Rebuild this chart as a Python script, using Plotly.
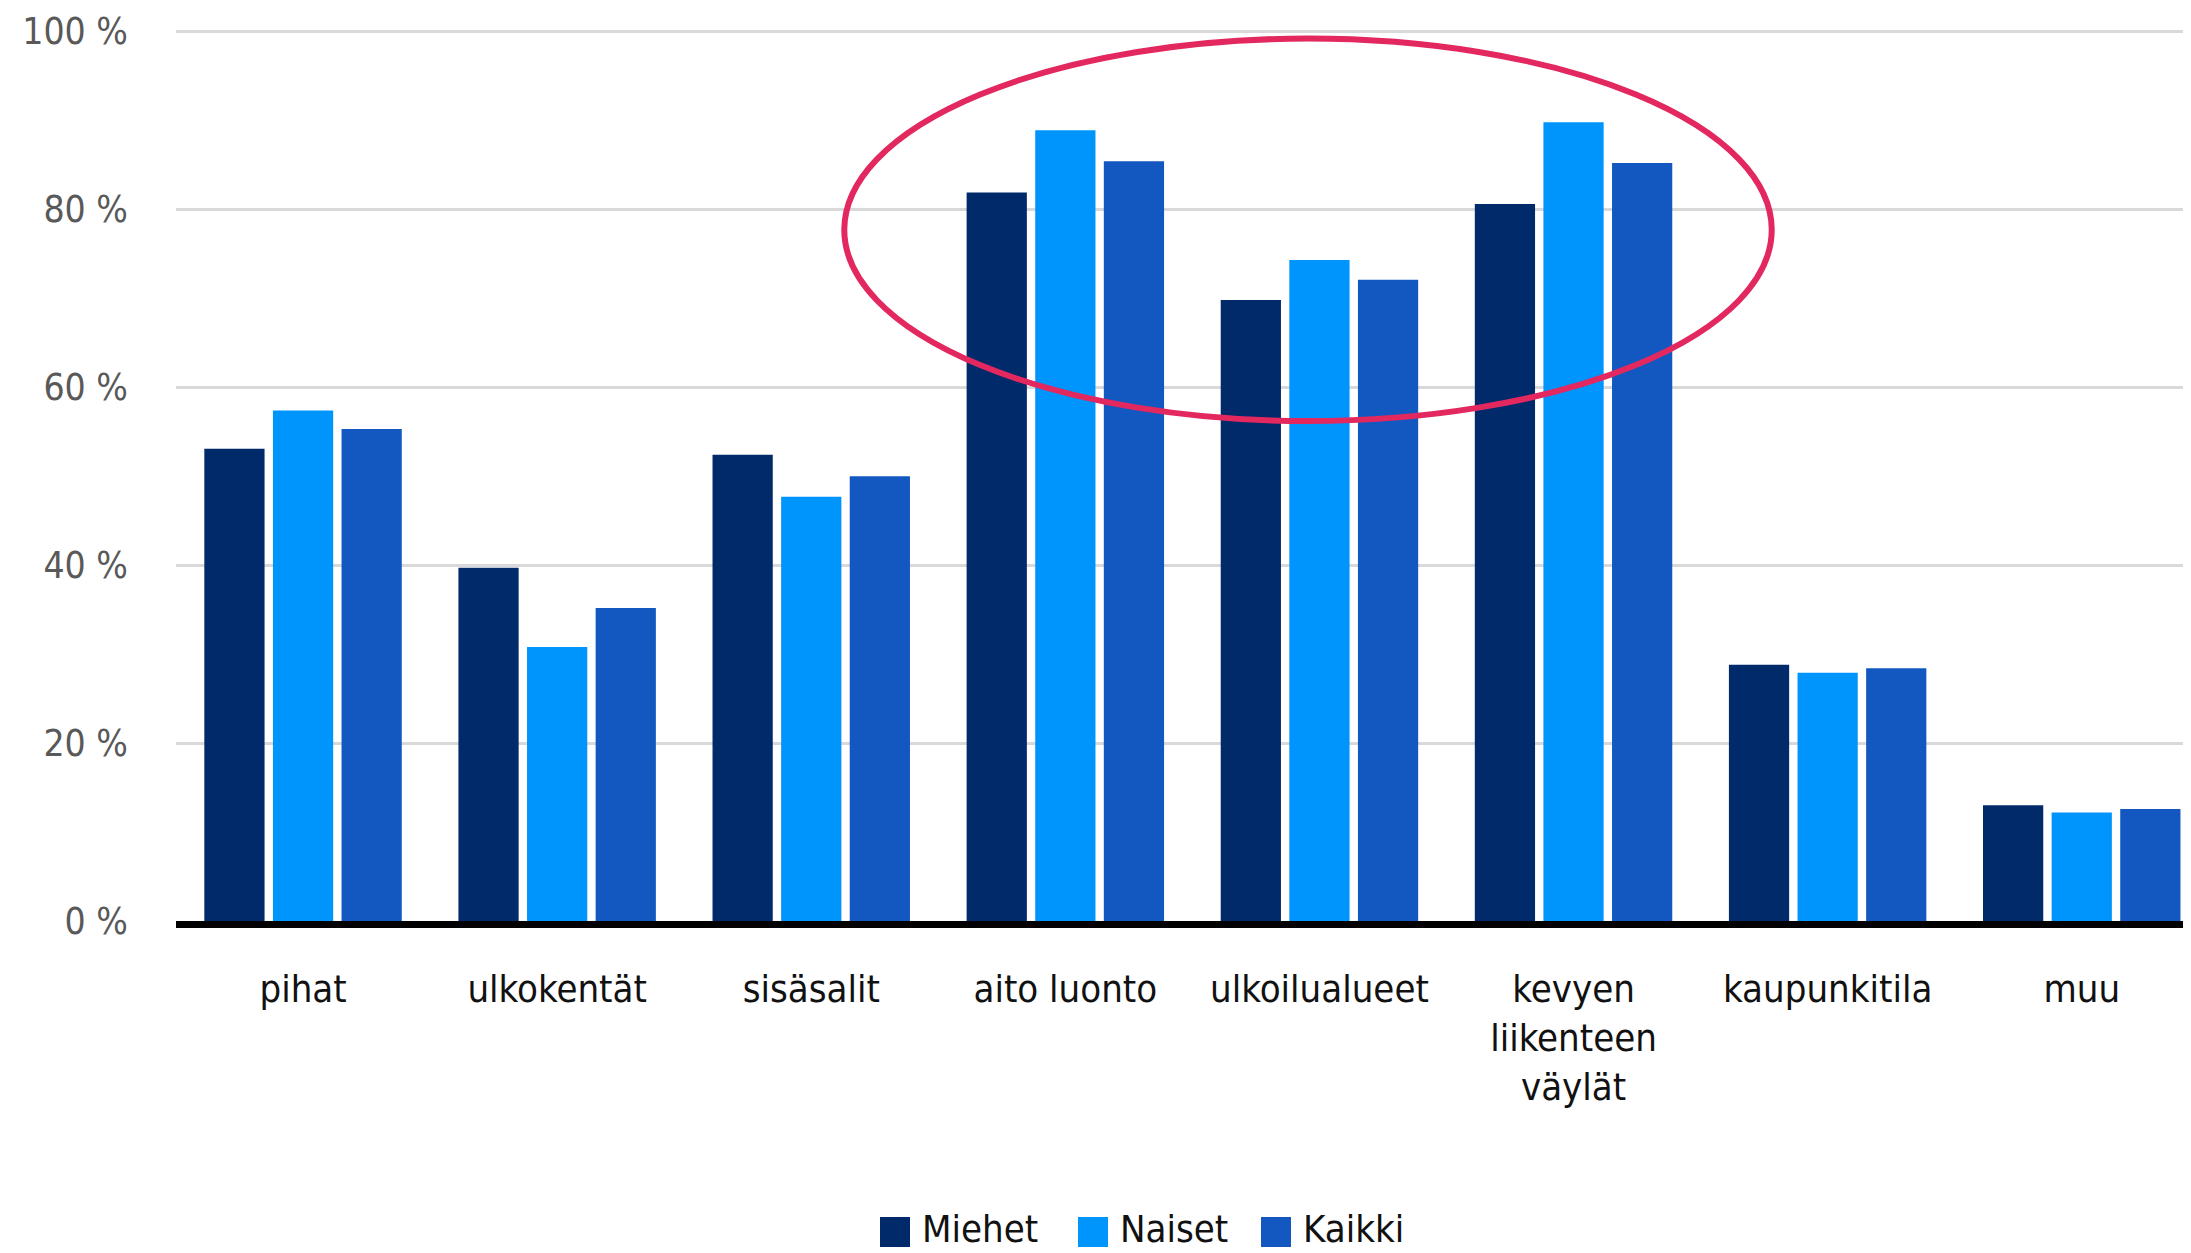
import plotly.graph_objects as go

categories = ["pihat", "ulkokentät", "sisäsalit", "aito luonto", "ulkoilualueet",
              "kevyen<br>liikenteen<br>väylät", "kaupunkitila", "muu"]
miehet = [53.1, 39.7, 52.4, 81.9, 69.8, 80.6, 28.8, 13.0]
naiset = [57.4, 30.8, 47.7, 88.9, 74.3, 89.8, 27.9, 12.2]
kaikki = [55.3, 35.2, 50.0, 85.4, 72.1, 85.2, 28.4, 12.6]
series_names = ["Miehet", "Naiset", "Kaikki"]
colors = ["#012A6B", "#0094FD", "#1358C1"]
y_ticks = [0, 20, 40, 60, 80, 100]
y_ticklabels = ["0 %", "20 %", "40 %", "60 %", "80 %", "100 %"]

# page has an 8px body margin; figure is sized/placed to compensate
OFF = 8
Y_MAX = 100.5
PX_PER_UNIT = 8.9
W, H = 2191 - OFF, 1253 - OFF
B = 332
T = round(H - B - Y_MAX * PX_PER_UNIT)
L, R = 176 - OFF, 0
FONT = "DejaVu Sans Condensed, Roboto, sans-serif"

fig = go.Figure()
for name, vals, col in zip(series_names, [miehet, naiset, kaikki], colors):
    fig.add_trace(go.Bar(x=list(range(len(categories))), y=vals, name=name,
                         marker=dict(color=col, line=dict(width=0)),
                         showlegend=False))

fig.update_layout(
    width=W, height=H,
    margin=dict(l=L, r=R, t=T, b=B, pad=0, autoexpand=False),
    paper_bgcolor="white", plot_bgcolor="white",
    barmode="group", bargap=0.19, bargroupgap=0.122,
    font=dict(family=FONT, color="#111111"),
)
fig.update_xaxes(
    tickmode="array", tickvals=list(range(len(categories))), ticktext=categories,
    range=[-0.5, 7.43], showgrid=False, zeroline=False, automargin=False,
    showline=True, linecolor="black", linewidth=7,
    ticks="", ticklabelstandoff=28,
    tickfont=dict(size=38, color="#111111", family=FONT),
)
fig.update_yaxes(
    range=[0, Y_MAX], tickmode="array", tickvals=y_ticks, ticktext=y_ticklabels,
    showgrid=True, gridcolor="#D9D9D9", gridwidth=2.5, zeroline=False, automargin=False,
    showline=False, ticks="", ticklabelstandoff=47,
    tickfont=dict(size=37, color="#595959", family=FONT),
)

# highlight ellipse
fig.add_shape(type="circle", xref="x", yref="y", x0=2.13, x1=5.78, y0=56.2, y1=99.2,
              line=dict(color="#E2285F", width=6), fillcolor="rgba(0,0,0,0)", layer="above")

# manual legend (positions given in page pixels)
pw, ph = W - L - R, H - T - B
def px_x(px):
    return (px - OFF - L) / pw
def px_y(py):
    return (H - B - (py - OFF)) / ph

legend_items = [(880, 921), (1078, 1119), (1261, 1302)]
for (sq_x, tx_x), name, col in zip(legend_items, series_names, colors):
    fig.add_shape(type="rect", xref="paper", yref="paper",
                  x0=px_x(sq_x), x1=px_x(sq_x + 30), y0=px_y(1247), y1=px_y(1217),
                  fillcolor=col, line=dict(width=0))
    fig.add_annotation(xref="paper", yref="paper", x=px_x(tx_x), y=px_y(1252),
                       text=name, showarrow=False, xanchor="left", yanchor="bottom",
                       borderpad=0,
                       font=dict(size=38, color="#111111", family=FONT))

fig.write_html("out.html")
